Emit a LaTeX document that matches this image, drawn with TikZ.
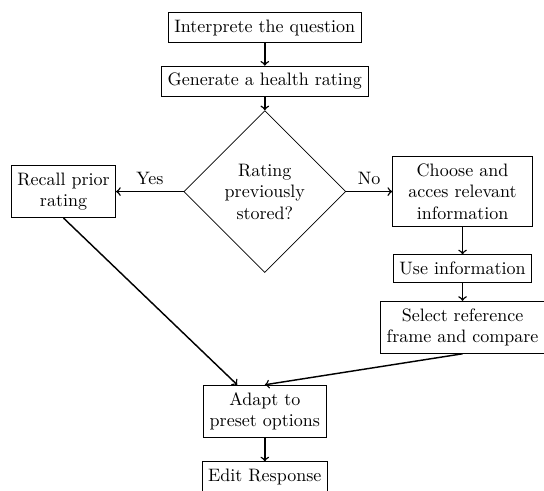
\documentclass[tikz,border=0pt]{standalone}
\usetikzlibrary{shapes.geometric}

\begin{document}
\begin{tikzpicture}[
  box/.style={draw, align=center, inner ysep=4pt},
  widebox/.style={draw, align=center, inner ysep=4pt, text width=2.5cm},
  decision/.style={draw, diamond, aspect=1, minimum width=3.16cm, minimum height=3.16cm, align=center, inner sep=1pt},
  flow/.style={->, thick}
]
\useasboundingbox (0,0) rectangle (10.62,-9.58);

% Main column
\node[box] (interp) at (5.17, -0.54) {Interprete the question};
\node[box] (rating) at (5.17, -1.59) {Generate a health rating};
\node[decision] (stored) at (5.17, -3.74) {Rating\\previously\\stored?};

% Yes branch
\node[box] (recall) at (1.24, -3.74) {Recall prior\\rating};

% No branch
\node[widebox] (choose) at (9.03, -3.74) {Choose and\\acces relevant\\information};
\node[box] (useinfo) at (9.03, -5.24) {Use information};
\node[box] (select) at (9.03, -6.39) {Select reference\\frame and compare};

% Output
\node[box] (adapt) at (5.17, -8.03) {Adapt to\\preset options};
\node[box] (edit) at (5.17, -9.31) {Edit Response};

% Connections
\draw[flow] (interp) -- (rating);
\draw[flow] (rating) -- (stored);
\draw[flow] (stored.west) -- node[above] {Yes} (recall.east);
\draw[flow] (stored.east) -- node[above] {No} (choose.west);
\draw[flow] (choose) -- (useinfo);
\draw[flow] (useinfo) -- (select);
\draw[flow] (recall.south) -- (adapt);
\draw[flow] (select.south) -- (adapt.north);
\draw[flow] (adapt) -- (edit);

\end{tikzpicture}
\end{document}
